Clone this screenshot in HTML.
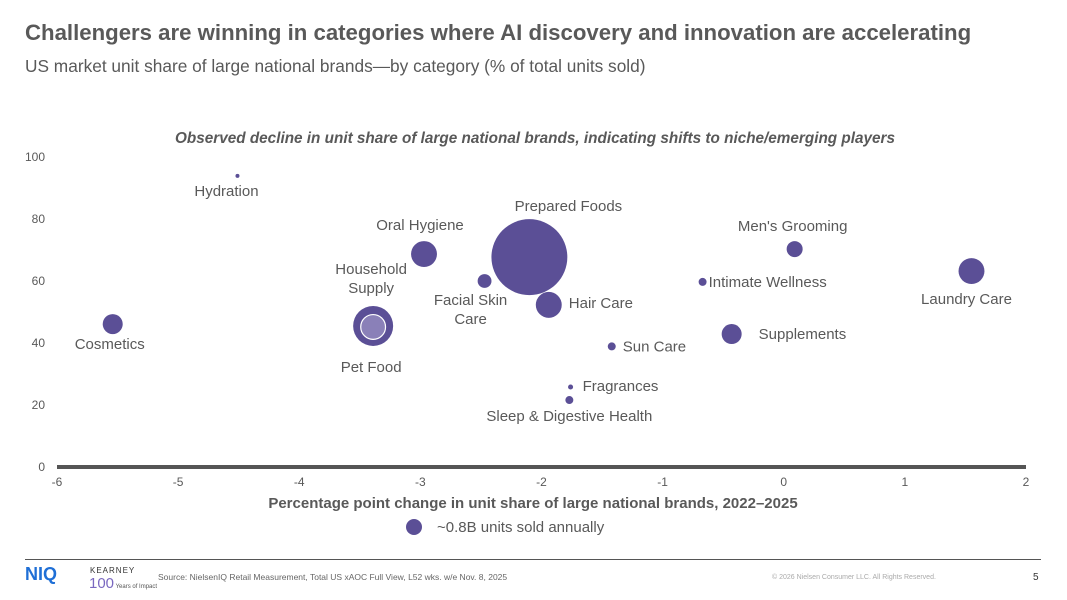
<!DOCTYPE html>
<html><head><meta charset="utf-8"><style>
body{margin:0;width:1067px;height:600px;background:#fff;font-family:"Liberation Sans",sans-serif;overflow:hidden;position:relative}
.t{position:absolute;white-space:nowrap}
</style></head><body>
<div class="t" style="left:25px;top:20px;font-size:22.2px;font-weight:bold;color:#595959">Challengers are winning in categories where AI discovery and innovation are accelerating</div>
<div class="t" style="left:25px;top:56px;font-size:17.3px;color:#595959">US market unit share of large national brands—by category (% of total units sold)</div>
<svg id="chart" width="1067" height="600" style="position:absolute;left:0;top:0" font-family="Liberation Sans, sans-serif"></svg>
<div class="t" style="left:25px;top:559px;width:1016px;height:1px;background:#555"></div>
<div class="t" style="left:25px;top:564px;font-size:18px;font-weight:bold;color:#1f6fd6">NIQ</div>
<div class="t" style="left:90px;top:566px;font-size:8px;color:#333;letter-spacing:1px">KEARNEY</div>
<div class="t" style="left:89px;top:575px;font-size:15px;color:#7a68c0">100<span style="font-size:6px;color:#555"> Years of Impact</span></div>
<div class="t" style="left:158px;top:572px;font-size:8.5px;color:#666">Source: NielsenIQ Retail Measurement, Total US xAOC Full View, L52 wks. w/e Nov. 8, 2025</div>
<div class="t" style="left:772px;top:574px;font-size:7px;color:#aaa">© 2026 Nielsen Consumer LLC. All Rights Reserved.</div>
<div class="t" style="left:1033px;top:572px;font-size:10px;color:#333">5</div>
<script>
const names=["Hydration","Oral Hygiene","Prepared Foods","Facial Skin Care","Household Supply / Pet Food","Cosmetics","Hair Care","Sun Care","Fragrances","Sleep & Digestive Health","Intimate Wellness","Men's Grooming","Laundry Care","Supplements"];
const xChange=[-4.51,-2.97,-2.10,-2.47,-3.39,-5.54,-1.94,-1.42,-1.76,-1.77,-0.67,0.09,1.55,-0.43];
const yShare=[93.9,68.7,67.7,60.0,45.5,46.1,52.3,38.9,25.8,21.6,59.7,70.3,63.2,42.9];
const unitsB=[0.05,2.1,18,0.6,5,1.25,2.1,0.2,0.08,0.2,0.2,0.8,2.1,1.25];
const xTicks=[-6,-5,-4,-3,-2,-1,0,1,2];
const yTicks=[0,20,40,60,80,100];
// label placement (offset from bubble center, anchor) — styling only
const labelPos=[[-11,20,"middle"],[-4,-24,"middle"],[39,-46,"middle"],[-14,24,"middle"],[-2,-52,"middle"],[-3,25,"middle"],[20,3,"start"],[11,5,"start"],[12,4,"start"],[0,21,"middle"],[6,5,"start"],[-2,-18,"middle"],[-5,33,"middle"],[27,5,"start"]];
const svg=document.getElementById('chart');const NS="http://www.w3.org/2000/svg";
const X=v=>57+(v+6)*121.125, Y=v=>467-v*3.1, R=u=>8*Math.sqrt(u/0.8);
function mk(t,a,p){const e=document.createElementNS(NS,t);for(const k in a)e.setAttribute(k,a[k]);(p||svg).appendChild(e);return e;}
let e=mk('text',{x:535,y:143,'text-anchor':'middle','font-size':15.3,'font-weight':'bold','font-style':'italic',fill:'#595959'});e.textContent="Observed decline in unit share of large national brands, indicating shifts to niche/emerging players";


yTicks.forEach(t=>{const l=mk('text',{x:45,y:Y(t)+4,'text-anchor':'end','font-size':12,fill:'#595959'});l.textContent=t;

});
xTicks.forEach(t=>{const l=mk('text',{x:X(t),y:486,'text-anchor':'middle','font-size':12,fill:'#595959'});l.textContent=t;

});
const ax=mk('line',{x1:X(-6),x2:X(2),y1:Y(0),y2:Y(0),stroke:'#555','stroke-width':4});


names.forEach((n,i)=>{const cx=X(xChange[i]),cy=Y(yShare[i]),r=R(unitsB[i]);
const c=mk('circle',{cx,cy,r,fill:'#5b4f96'});


const lp=labelPos[i];const parts=n==="Household Supply / Pet Food"?null:(n==="Facial Skin Care"?["Facial Skin","Care"]:[n]);
if(parts){parts.forEach((p,j)=>{const l=mk('text',{x:cx+lp[0],y:cy+lp[1]+j*19,'text-anchor':lp[2],'font-size':15,fill:'#595959'});l.textContent=p;

});}
else{[["Household",-52],["Supply",-33],["Pet Food",46]].forEach(([p,dy])=>{const l=mk('text',{x:cx-2,y:cy+dy,'text-anchor':'middle','font-size':15,fill:'#595959'});l.textContent=p;

});
mk('circle',{cx,cy:cy+1,r:r*0.62,fill:'#8a80b8',stroke:'#fff','stroke-width':1.2});}
});
e=mk('text',{x:533,y:508,'text-anchor':'middle','font-size':15,'font-weight':'bold',fill:'#595959'});e.textContent="Percentage point change in unit share of large national brands, 2022–2025";


e=mk('circle',{cx:414,cy:527,r:8,fill:'#5b4f96'});


e=mk('text',{x:437,y:532,'font-size':15,fill:'#595959'});e.textContent="~0.8B units sold annually";


</script>
</body></html>
